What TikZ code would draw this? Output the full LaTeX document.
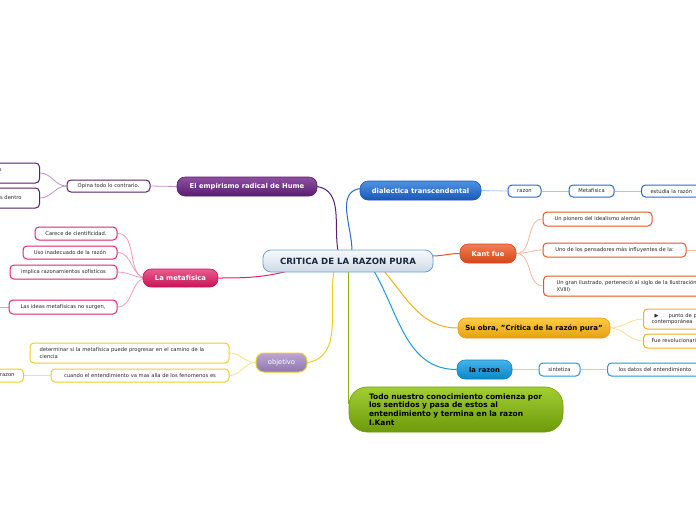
\documentclass[tikz,border=0pt]{standalone}
\usepackage{fontspec}
\setmainfont{DejaVu Sans}
\usetikzlibrary{backgrounds}
\definecolor{purT}{HTML}{8E4FA3}\definecolor{purB}{HTML}{5A1E6E}\definecolor{purD}{HTML}{5A1E6E}\definecolor{purL}{HTML}{BE94C8}
\definecolor{pinT}{HTML}{EC5A8E}\definecolor{pinB}{HTML}{C81458}\definecolor{pinD}{HTML}{E2246C}\definecolor{pinL}{HTML}{F79ABC}
\definecolor{bluT}{HTML}{4F92E2}\definecolor{bluB}{HTML}{1A58B6}\definecolor{bluD}{HTML}{2A6AD0}\definecolor{bluL}{HTML}{A8C8F2}
\definecolor{oraT}{HTML}{F27E54}\definecolor{oraB}{HTML}{D6461A}\definecolor{oraD}{HTML}{E85424}\definecolor{oraL}{HTML}{F6B8A0}
\definecolor{golT}{HTML}{FCCB45}\definecolor{golB}{HTML}{E6A010}\definecolor{golD}{HTML}{F0B020}\definecolor{golL}{HTML}{FCDC98}
\definecolor{cyaT}{HTML}{45B4EC}\definecolor{cyaB}{HTML}{0A86C6}\definecolor{cyaD}{HTML}{1A9ADC}\definecolor{cyaL}{HTML}{A8DCF6}
\definecolor{greT}{HTML}{A2CE34}\definecolor{greB}{HTML}{6C9A0A}\definecolor{greD}{HTML}{84B414}
\definecolor{lilT}{HTML}{BCA6D4}\definecolor{lilB}{HTML}{8E76AE}
\definecolor{yelD}{HTML}{E8D024}\definecolor{yelL}{HTML}{F2E488}
\definecolor{cenT}{HTML}{F6F9FC}\definecolor{cenB}{HTML}{CFDAE6}\definecolor{cenD}{HTML}{6AA0D8}
\definecolor{navy}{HTML}{1A2840}
\tikzset{
  mainbox/.style={rounded corners=8pt, minimum height=19pt, inner xsep=4pt, inner ysep=0pt,
    font=\fontsize{6.8}{8}\selectfont\bfseries, text=white, line width=0.6pt},
  leaf/.style={draw=#1, fill=white, rounded corners=4pt, line width=1pt, minimum height=13pt,
    inner ysep=1pt, inner xsep=5pt, font=\fontsize{5.2}{6.4}\selectfont, text=black!85},
  mainline/.style={draw=#1, line width=1pt},
  subline/.style={draw=#1, line width=0.8pt},
}
\begin{document}
\begin{tikzpicture}[x=1pt,y=-1pt]
\useasboundingbox (0,0) rectangle (696,520);

% central
\node[rounded corners=8pt, draw=cenD, line width=0.8pt, top color=cenT, bottom color=cenB,
  minimum width=170pt, minimum height=22pt, inner sep=0pt,
  font=\fontsize{8.6}{10}\selectfont\bfseries, text=navy] (c) at (348,261) {CRITICA DE LA RAZON PURA};

% Hume branch
\node[mainbox, draw=purB, top color=purT, bottom color=purB, minimum width=140pt] (hume) at (247,186.5) {El empirismo radical de Hume};
\node[leaf=purD, minimum width=83pt, minimum height=12pt] (opina) at (108.5,186) {Opina todo lo contrario.};
\node[leaf=purD, anchor=east, minimum height=20pt, text width=60pt, align=right, inner xsep=38pt] (h1) at (40,173) {o\\\mbox{}};
\node[leaf=purD, anchor=east, minimum height=20pt, text width=60pt, align=right, inner xsep=18pt] (h2) at (40,198) {s dentro};

% metafisica branch
\node[mainbox, draw=pinB, top color=pinT, bottom color=pinB, minimum width=75pt, minimum height=18pt] (meta) at (180.5,278) {La metafísica};
\node[leaf=pinD, minimum width=82pt] (m1) at (76,233.5) {Carece de cientificidad.};
\node[leaf=pinD, minimum width=94pt] (m2) at (70,252.5) {Uso inadecuado de la razón};
\node[leaf=pinD, minimum width=107pt, minimum height=14pt] (m3) at (63.5,272) {implica razonamientos sofísticos};
\node[leaf=pinD, minimum width=108pt, minimum height=14pt] (m4) at (63,307) {Las ideas metafísicas no surgen,};
\coordinate (m4out) at (-4,307);

% objetivo branch
\node[mainbox, draw=yelD, line width=1pt, top color=lilT, bottom color=lilB, minimum width=51pt,
  font=\fontsize{6.8}{8}\selectfont] (obj) at (281.5,362.5) {objetivo};
\node[leaf=yelD, minimum height=20pt, text width=180pt, align=left, inner xsep=9.5pt,
  font=\fontsize{5.2}{6.6}\selectfont] (o1) at (129.5,353) {determinar si la metafísica puede progresar en el camino de la\\ciencia};
\node[leaf=yelD, minimum width=178pt] (o2) at (140,375.5) {cuando el entendimiento va mas alla de los fenomenos es};
\node[leaf=yelD, anchor=east, inner xsep=9pt] (o3) at (24,375.5) {razon};

% dialectica branch
\node[mainbox, draw=bluB, top color=bluT, bottom color=bluB, minimum width=121pt] (dial) at (420.5,190.5) {dialectica transcendental};
\node[leaf=bluD, minimum width=33pt, minimum height=12pt] (d1) at (524.5,191) {razon};
\node[leaf=bluD, minimum width=45pt, minimum height=12pt] (d2) at (591.5,191) {Metafisica};
\node[leaf=bluD, anchor=west, minimum height=12pt, inner xsep=9pt] (d3) at (641,191) {estudia la razón};

% Kant fue branch
\node[mainbox, draw=oraB, top color=oraT, bottom color=oraB, minimum width=56pt] (kant) at (488,253.5) {Kant fue};
\node[leaf=oraD, minimum width=109pt, minimum height=14pt] (k1) at (597.5,219) {Un pionero del idealismo alemán};
\node[leaf=oraD, minimum width=143pt, minimum height=14pt] (k2) at (614.5,250) {Uno de los pensadores más influyentes de la:};
\coordinate (k2out) at (700,250);
\node[leaf=oraD, anchor=west, minimum height=20pt, text width=200pt, align=left, inner xsep=13pt,
  font=\fontsize{5.2}{6.6}\selectfont] (k3) at (543,286) {Un gran ilustrado, perteneció al siglo de la Ilustración (siglo\\XVIII)};

% Su obra branch
\node[mainbox, draw=golB, top color=golT, bottom color=golB, minimum width=152pt, minimum height=20pt, text=black,
  font=\fontsize{7}{8}\selectfont\bfseries] (obra) at (534,328) {Su obra, "Crítica de la razón pura"};
\node[leaf=golD, anchor=west, minimum height=20pt, text width=80pt, align=left, inner xsep=8pt,
  font=\fontsize{5.2}{6.6}\selectfont] (s1) at (643,319) {\hspace{3pt}▶\hspace{10pt}punto de partida\\contemporánea};
\node[leaf=golD, anchor=west, minimum height=14pt, inner xsep=8pt] (s2) at (643,341) {Fue revolucionaria};

% la razon branch
\node[mainbox, draw=cyaB, top color=cyaT, bottom color=cyaB, minimum width=55pt, text=black] (raz) at (484.5,369.5) {la razon};
\node[leaf=cyaD, minimum width=41pt] (r1) at (559.5,369.5) {sintetiza};
\node[leaf=cyaD, anchor=west, inner xsep=9pt, minimum width=95pt] (r2) at (607,369.5) {los datos del entendimiento};

% green note
\node[rounded corners=18pt, draw=greB, line width=0.6pt, top color=greT, bottom color=greB,
  minimum width=214pt, minimum height=45pt, text width=180pt, inner xsep=17pt, align=left,
  font=\fontsize{7.5}{8.7}\selectfont\bfseries, text=black] (green) at (456,409.5)
  {\hspace{3pt}Todo nuestro conocimiento comienza por\\\hspace{3pt}los sentidos y pasa de estos al\\\hspace{3pt}entendimiento y termina en la razon\\\hspace{3pt}I.Kant};

\begin{pgfonlayer}{background}
  \fill[white] (0,0) rectangle (696,520);
  % main connectors
  \draw[mainline=purB] (338,251) to[out=100,in=-10] (hume.east);
  \draw[mainline=bluD] (352,251) to[out=90,in=190] ([yshift=2pt]dial.west);
  \draw[mainline=pinD] (292,270) to[out=195,in=0] (meta.east);
  \draw[mainline=yelD] (334,271) to[out=-100,in=10] (obj.east);
  \draw[mainline=greD] (348,271) -- (348,404);
  \draw[mainline=cyaD] (374,271) to[out=-60,in=180] (raz.west);
  \draw[mainline=golD] (384,271) to[out=-50,in=180] (obra.west);
  \draw[mainline=oraD] (432,256) to[out=0,in=180] (kant.west);
  % sub connectors
  \draw[subline=purL] (hume.west) -- (opina.east);
  \draw[subline=purL] (opina.west) to[out=180,in=0] (h1.east);
  \draw[subline=purL] (opina.west) to[out=180,in=0] (h2.east);
  \foreach \m in {m1,m2,m3,m4}
    \draw[subline=pinL] ([xshift=4pt]meta.west) to[out=180,in=0] (\m.east);
  \draw[subline=pinL] (m4.west) -- (m4out);
  \draw[subline=yelL] (obj.west) to[out=180,in=0] (o1.east);
  \draw[subline=yelL] (obj.west) to[out=180,in=0] (o2.east);
  \draw[subline=yelL] (o2.west) -- (o3.east);
  \draw[subline=bluL] (dial.east) -- (d1.west);
  \draw[subline=bluL] (d1.east) -- (d2.west);
  \draw[subline=bluL] (d2.east) -- (d3.west);
  \foreach \k in {k1,k2,k3}
    \draw[subline=oraL] (kant.east) to[out=0,in=180] (\k.west);
  \draw[subline=oraL] (k2.east) -- (k2out);
  \draw[subline=golL] (obra.east) to[out=0,in=180] (s1.west);
  \draw[subline=golL] (obra.east) to[out=0,in=180] (s2.west);
  \draw[subline=cyaL] (raz.east) -- (r1.west);
  \draw[subline=cyaL] (r1.east) -- (r2.west);
\end{pgfonlayer}
\end{tikzpicture}
\end{document}
